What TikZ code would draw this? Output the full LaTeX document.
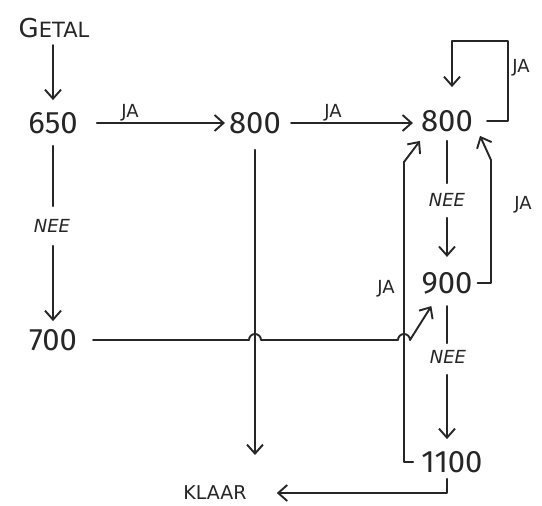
\documentclass[tikz,border=0pt]{standalone}
\usepackage{fontspec}
\setmainfont{Fira Sans}
\newfontfamily\labfont{DejaVu Sans}
\usetikzlibrary{arrows.meta,calc}
\begin{document}
\begin{tikzpicture}[x=1pt,y=-1pt,
  ink/.style={line width=1.9pt, draw=black!85, line cap=round, line join=round},
  arr/.style={ink, -{Straight Barb[length=9pt,width=16pt,line width=1.9pt]}},
  num/.style={inner sep=0pt, font=\fontsize{31}{31}\selectfont, text=black!85},
  big/.style={inner sep=0pt, font=\labfont\fontsize{19}{19}\selectfont, text=black!85},
  lab/.style={inner sep=0pt, font=\labfont\fontsize{18}{18}\selectfont, text=black!85},
  nee/.style={inner sep=0pt, font=\labfont\fontsize{18}{18}\selectfont\itshape, text=black!85}
]
\fill[white] (0,0) rectangle (542,506);
\useasboundingbox (0,0) rectangle (542,506);

% nodes
\node[big] (getal) at (54,28) {{\fontsize{26}{26}\selectfont G}{\fontsize{21}{21}\selectfont ETAL}};
\node[num] (n650) at (53,123) {650};
\node[num] (n800a) at (255,123) {800};
\node[num] (n800b) at (447,121) {800};
\node[num] (n900) at (447,283) {900};
\node[num] (n700) at (53,340) {700};
\node[num] (n1100) at (452,462) {1100};
\node[big] (klaar) at (215,493) {KLAAR};

\node[lab] (ja1) at (130,113) {JA};
\node[lab] (ja2) at (333,113) {JA};
\node[lab] (ja3) at (521,68) {JA};
\node[lab] (ja4) at (523,205) {JA};
\node[lab] (ja5) at (386,289) {JA};
\node[nee] (nee1) at (52,226) {NEE};
\node[nee] (nee2) at (447,200) {NEE};
\node[nee] (nee3) at (448,357) {NEE};

\coordinate (loopc) at (508,41);
\coordinate (rbend) at (491,160);
\coordinate (lbend) at (404,162);
\coordinate (end800) at (255,455);

% connectors
\draw[arr, shorten <=7pt, shorten >=12pt] (getal.south -| n650.north) -- (n650.north);
\draw[ink, shorten <=12pt, shorten >=13pt] (n650.south) -- (nee1.north -| n650.south);
\draw[arr, shorten <=13pt, shorten >=8pt] (nee1.south -| n700.north) -- (n700.north);

\draw[arr, shorten <=19pt, shorten >=4pt] (n650.east) -- (n800a.west);
\draw[arr, shorten <=10pt, shorten >=8pt] (n800a.east) -- (n800a.east -| n800b.west);

\draw[arr] ([xshift=14pt]n800b.east) -| (loopc) -| ([xshift=5pt,yshift=23pt]n800b.north);

\draw[ink, shorten <=9pt, shorten >=10pt] (n800b.south) -- (nee2.north);
\draw[arr, shorten <=11pt, shorten >=15pt] (nee2.south) -- (n900.north);
\draw[ink, shorten <=12pt, shorten >=7pt] (n900.south) -- (nee3.north -| n900.south);
\draw[arr, shorten <=11pt, shorten >=12pt] (nee3.south -| n900.south) -- (n1100.north -| n900.south);
\draw[arr, shorten <=6pt] (n1100.south -| n900.south) |- ([xshift=30pt]klaar.east);

\draw[arr] ([xshift=5pt]n900.east) -| (rbend) -- ([xshift=7pt,yshift=-4pt]n800b.south east);
\draw[arr] ([xshift=-8pt]n1100.west) -| (lbend) -- ([xshift=-1pt,yshift=-9pt]n800b.south west);

\draw[arr, shorten <=16pt] (n800a.south) -- (end800);

\draw[arr] ([xshift=16pt]n700.east)
  -- ($(n800a |- n700)+(-6,0)$) arc[start angle=180,end angle=0,radius=6pt]
  -- ($(lbend |- n700)+(-6,0)$) arc[start angle=180,end angle=0,radius=6pt]
  -- ([xshift=10pt,yshift=-12pt]n900.south west);
\end{tikzpicture}
\end{document}
